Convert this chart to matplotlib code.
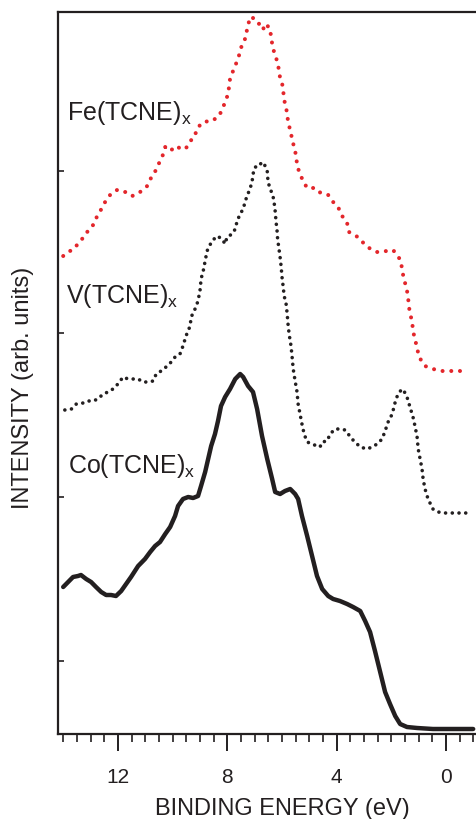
import matplotlib
matplotlib.use("Agg")
import matplotlib.pyplot as plt

plt.rcParams['font.family'] = ['Liberation Sans', 'DejaVu Sans']
plt.rcParams['mathtext.fontset'] = 'custom'
plt.rcParams['mathtext.rm'] = 'Liberation Sans'
plt.rcParams['mathtext.it'] = 'Liberation Sans'

# ---- data (binding energy in eV, intensity in arb. units) ----
fe_energy = [14.00, 13.75, 13.60, 13.42, 13.24, 13.05, 12.87, 12.76, 12.58, 12.43, 12.32, 12.18, 12.03,
             11.85, 11.70, 11.48, 11.30, 11.08, 10.93, 10.79, 10.68, 10.53, 10.38, 10.27, 10.09, 9.87,
             9.69, 9.54, 9.36, 9.25, 9.10, 8.99, 8.81, 8.70, 8.56, 8.30, 8.15, 7.97, 7.90, 7.79, 7.64,
             7.53, 7.46, 7.31, 7.28, 7.20, 7.09, 7.06, 6.87, 6.73, 6.65, 6.51, 6.40, 6.36, 6.29, 6.18,
             6.11, 6.07, 5.96, 5.94, 5.89, 5.81, 5.78, 5.70, 5.63, 5.56, 5.48, 5.45, 5.37, 5.23, 5.08,
             4.86, 4.72, 4.46, 4.31, 4.13, 3.95, 3.80, 3.62, 3.55, 3.40, 3.18, 2.96, 2.71, 2.52, 2.34,
             2.19, 1.94, 1.79, 1.65, 1.61, 1.54, 1.46, 1.39, 1.37, 1.32, 1.24, 1.21, 1.13, 1.06, 0.99,
             0.77, 0.48, 0.15, -0.18, -0.51, -0.80]
fe_intensity = [479, 484, 486, 493, 498, 506, 511, 519, 527, 535, 539, 543, 545,
                543, 543, 539, 541, 545, 549, 557, 561, 570, 578, 588, 584, 589,
                586, 586, 592, 600, 603, 611, 613, 614, 614, 619, 628, 641, 656, 664, 674,
                683, 691, 698, 706, 714, 713, 717, 711, 712, 704, 709, 700, 691, 683, 674,
                665, 657, 648, 639, 631, 622, 613, 605, 596, 588, 579, 570, 563, 554, 547,
                547, 543, 542, 540, 533, 528, 519, 512, 503, 501, 497, 490, 485, 483, 483,
                484, 485, 480, 474, 465, 456, 448, 439, 430, 422, 413, 404, 395, 387, 378,
                369, 366, 364, 364, 364, 364]

v_energy = [13.94, 13.70, 13.52, 13.27, 13.09, 12.91, 12.73, 12.54, 12.36, 12.18, 12.00, 11.81, 11.63,
            11.44, 11.26, 11.08, 10.90, 10.71, 10.60, 10.42, 10.24, 10.05, 9.91, 9.73, 9.62, 9.51,
            9.36, 9.32, 9.18, 9.07, 8.99, 8.96, 8.88, 8.81, 8.74, 8.67, 8.56, 8.37, 8.19, 8.08, 8.01,
            7.82, 7.71, 7.64, 7.53, 7.42, 7.35, 7.28, 7.17, 7.09, 7.06, 6.98, 6.87, 6.73, 6.65, 6.54,
            6.51, 6.44, 6.33, 6.29, 6.25, 6.22, 6.18, 6.16, 6.11, 6.07, 6.03, 6.00, 5.96, 5.92, 5.85,
            5.81, 5.78, 5.74, 5.67, 5.63, 5.59, 5.52, 5.45, 5.41, 5.34, 5.27, 5.19, 5.08, 4.90, 4.72,
            4.61, 4.53, 4.35, 4.24, 4.06, 3.88, 3.69, 3.58, 3.44, 3.33, 3.14, 2.89, 2.71, 2.52, 2.34,
            2.23, 2.12, 1.97, 1.86, 1.76, 1.61, 1.54, 1.43, 1.32, 1.21, 1.13, 1.06, 1.02, 0.95, 0.88,
            0.84, 0.77, 0.66, 0.48, 0.29, 0.04, -0.22, -0.44, -0.69, -0.95]
v_intensity = [325, 326, 331, 332, 334, 334, 336, 341, 343, 346, 351, 358, 356,
               356, 356, 353, 353, 354, 361, 364, 368, 373, 378, 381, 389, 399,
               409, 418, 426, 434, 446, 456, 464, 474, 484, 488, 494, 499, 496, 491, 498,
               501, 506, 514, 521, 526, 533, 539, 546, 554, 561, 568, 568, 573, 571, 564,
               553, 547, 539, 533, 524, 514, 504, 496, 486, 478, 468, 458, 449, 439, 431,
               421, 411, 401, 389, 378, 366, 354, 343, 331, 321, 311, 301, 293, 291, 289,
               288, 293, 294, 301, 306, 306, 305, 301, 296, 293, 288, 286, 288, 291, 296,
               304, 313, 321, 333, 341, 346, 344, 338, 328, 318, 308, 298, 286, 276, 266,
               256, 246, 236, 226, 223, 222, 222, 222, 222, 222]

co_energy = [14.00, 13.82, 13.64, 13.46, 13.35, 13.16, 12.98, 12.80, 12.61, 12.43, 12.25, 12.07, 11.88,
             11.70, 11.52, 11.26, 11.01, 10.82, 10.64, 10.46, 10.27, 10.09, 9.91, 9.80, 9.62, 9.43,
             9.25, 9.07, 8.96, 8.81, 8.70, 8.59, 8.45, 8.34, 8.23, 8.08, 7.90, 7.71, 7.53, 7.42, 7.24,
             7.06, 6.91, 6.73, 6.54, 6.36, 6.25, 6.07, 5.89, 5.70, 5.52, 5.41, 5.27, 5.08, 4.90, 4.72,
             4.53, 4.31, 4.13, 3.88, 3.62, 3.40, 3.14, 2.96, 2.78, 2.60, 2.41, 2.23, 2.05, 1.86, 1.68,
             1.43, 1.06, 0.48, -0.15, -0.99]
co_intensity = [148, 153, 158, 159, 160, 156, 153, 148, 143, 140, 140, 139, 144,
                151, 158, 169, 176, 183, 189, 193, 201, 208, 219, 229, 236, 238,
                237, 239, 249, 263, 276, 289, 301, 314, 329, 338, 346, 356, 361, 358, 349,
                343, 326, 299, 276, 256, 243, 241, 244, 246, 241, 236, 219, 199, 179, 159,
                146, 139, 136, 134, 131, 128, 124, 114, 103, 84, 63, 43, 31, 19, 11,
                8, 7, 6, 6, 6]

series_labels = ["Fe(TCNE)$_\\mathrm{x}$", "V(TCNE)$_\\mathrm{x}$", "Co(TCNE)$_\\mathrm{x}$"]
label_pos_energy = [13.86, 13.89, 13.82]
label_pos_intensity = [616, 433, 263]

x_major_ticks = [12, 8, 4, 0]
y_ticks = [74, 238, 402, 564]

# ---- figure ----
fig = plt.figure(figsize=(4.77, 8.20), dpi=100)
ax = fig.add_axes([58 / 477, 1 - 735 / 820, 1 - 58 / 477, (735 - 13) / 820])

red = '#e3262b'
black = '#231f20'

ax.plot(fe_energy, fe_intensity, color=red, lw=2.9, linestyle=(0, (0.01, 2.15)),
        dash_capstyle='round', solid_capstyle='round')
ax.plot(v_energy, v_intensity, color=black, lw=2.6, linestyle=(0, (0.01, 1.85)),
        dash_capstyle='round')
ax.plot(co_energy, co_intensity, color=black, lw=3.2, solid_joinstyle='round',
        solid_capstyle='round')

for lab, xe, yi in zip(series_labels, label_pos_energy, label_pos_intensity):
    ax.text(xe, yi, lab, fontsize=18, color=black, ha='left', va='baseline')

ax.set_xlim(14.19, -1.13)
ax.set_ylim(1, 723)

ax.set_xticks(x_major_ticks)
ax.set_xticks([14 - 0.5 * i for i in range(31)], minor=True)
ax.set_yticks(y_ticks)
ax.set_yticklabels([])
ax.tick_params(axis='x', which='major', direction='out', length=12, width=1.4,
               pad=12, labelsize=15, colors=black)
ax.tick_params(axis='x', which='minor', direction='out', length=6, width=1.2, colors=black)
ax.tick_params(axis='y', which='major', direction='in', length=4, width=1.2, colors=black)

for s in ['left', 'top', 'bottom']:
    ax.spines[s].set_linewidth(1.6)
    ax.spines[s].set_color(black)
ax.spines['right'].set_visible(False)

fig.text(282 / 477, 1 - 809 / 820, "BINDING ENERGY (eV)", fontsize=17, color=black,
         ha='center', va='center')
fig.text(23 / 477, 1 - 388 / 820, "INTENSITY (arb. units)", fontsize=17, color=black,
         ha='center', va='center', rotation=90)

fig.savefig('out.png', dpi=100)
